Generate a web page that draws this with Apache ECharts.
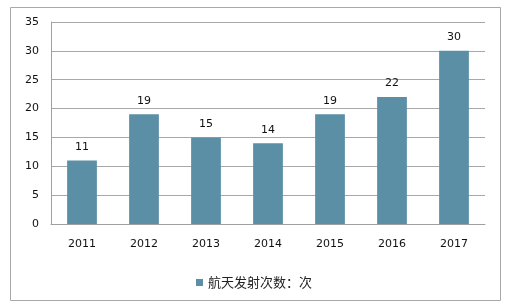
<!DOCTYPE html>
<html><head><meta charset="utf-8">
<script src="https://cdn.jsdelivr.net/npm/echarts@6/dist/echarts.min.js"></script>
<style>html,body{margin:0;padding:0;background:#fff;}#c{width:508px;height:306px;}</style>
</head><body><div id="c"></div>
<script>
const categories = ['2011','2012','2013','2014','2015','2016','2017'];
const launches = [11,19,15,14,19,22,30];
const seriesName = '航天发射次数：次';
const yTicks = {min:0, max:35, interval:5};

const chart = echarts.init(document.getElementById('c'));
const font = 'DejaVu Sans, Noto Sans CJK SC, sans-serif';
chart.setOption({
  animation:false,
  graphic:[{type:'rect', shape:{x:10.5,y:7.5,width:490,height:293}, style:{fill:'none',stroke:'#a8a8a8',lineWidth:1}, silent:true}],
  grid:{left:51, right:23, top:22, bottom:82},
  legend:{bottom:12, left:'center', itemWidth:7, itemHeight:7, itemGap:3,
    textStyle:{fontFamily:'Noto Sans CJK SC, sans-serif', fontSize:13, color:'#222'}, icon:'rect', data:[seriesName]},
  xAxis:{type:'category', data:categories,
    axisLine:{lineStyle:{color:'#a0a0a0', width:1}}, axisTick:{show:false},
    axisLabel:{fontFamily:font, fontSize:11, color:'#111', margin:15}},
  yAxis:{type:'value', min:yTicks.min, max:yTicks.max, interval:yTicks.interval,
    axisLine:{show:true, lineStyle:{color:'#a0a0a0'}}, axisTick:{show:false},
    splitLine:{lineStyle:{color:'#a8a8a8', width:1}},
    axisLabel:{fontFamily:font, fontSize:11, color:'#111', margin:12}},
  series:[{name:seriesName, type:'bar', data:launches, barWidth:'48%',
    itemStyle:{color:'#5b8fa6'},
    label:{show:true, position:'top', distance:8, fontFamily:font, fontSize:11, color:'#111'}}]
});
</script></body></html>
